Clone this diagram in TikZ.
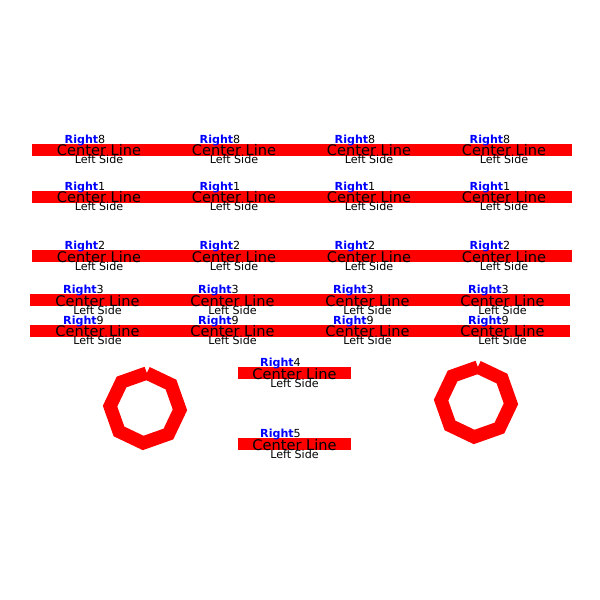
\documentclass[tikz,border=0pt]{standalone}
\usepackage{fontspec}
\setmainfont{DejaVu Sans}
\usetikzlibrary{calc}
\tikzstyle{redbar} = [
    rectangle,
    fill=red,
    inner sep=0pt,
    minimum height=8.64pt
]
\tikzstyle{centertext} = [
    anchor=base,
    inner sep=0pt,
    font=\fontsize{10.5}{12}\selectfont
]
\tikzstyle{sidetext} = [
    anchor=base,
    inner sep=0pt,
    font=\fontsize{8}{9.6}\selectfont
]
\tikzstyle{ring} = [
    draw=red,
    line width=9.6pt,
    line join=miter
]
% one track: red bar with its three labels
\newcommand{\trackgroup}[5]{%
    \node[redbar, minimum width=#5*0.72pt] (#1) at (#2,#3) {};
    \node[sidetext] (#1-r) at ($(#1.center)+(-14,-6.5)$) {\textbf{\color{blue}Right}#4};
    \node[centertext] (#1-c) at ($(#1.center)+(0,6)$) {Center Line};
    \node[sidetext] (#1-l) at ($(#1.center)+(0,14)$) {Left Side};
}

\begin{document}
\begin{tikzpicture}[x=0.72pt, y=-0.72pt]
    \useasboundingbox (0,0) rectangle (600,600);

    % Four columns of tracks
    \foreach \col in {0,1,2,3} {
        \pgfmathsetmacro{\xa}{99+135*\col}
        \pgfmathsetmacro{\xb}{97.5+135*\col}
        \trackgroup{t8-\col}{\xa}{149.5}{8}{135}
        \trackgroup{t1-\col}{\xa}{196.5}{1}{135}
        \trackgroup{t2-\col}{\xa}{256}{2}{135}
        \trackgroup{t3-\col}{\xb}{300}{3}{135}
        \trackgroup{t9-\col}{\xb}{330.5}{9}{135}
    }

    % Middle tracks
    \trackgroup{t4}{294.5}{373}{4}{113}
    \trackgroup{t5}{294.5}{444}{5}{113}

    % Octagon rings
    \coordinate (ringL) at (145,408);
    \coordinate (ringR) at (476,402);
    \draw[ring] ($(ringL)+(-87:35)$) \foreach \k in {1,...,8} { -- ($(ringL)+(-87+45*\k:35)$) };
    \draw[ring] ($(ringR)+(-87:35)$) \foreach \k in {1,...,8} { -- ($(ringR)+(-87+45*\k:35)$) };
\end{tikzpicture}
\end{document}
